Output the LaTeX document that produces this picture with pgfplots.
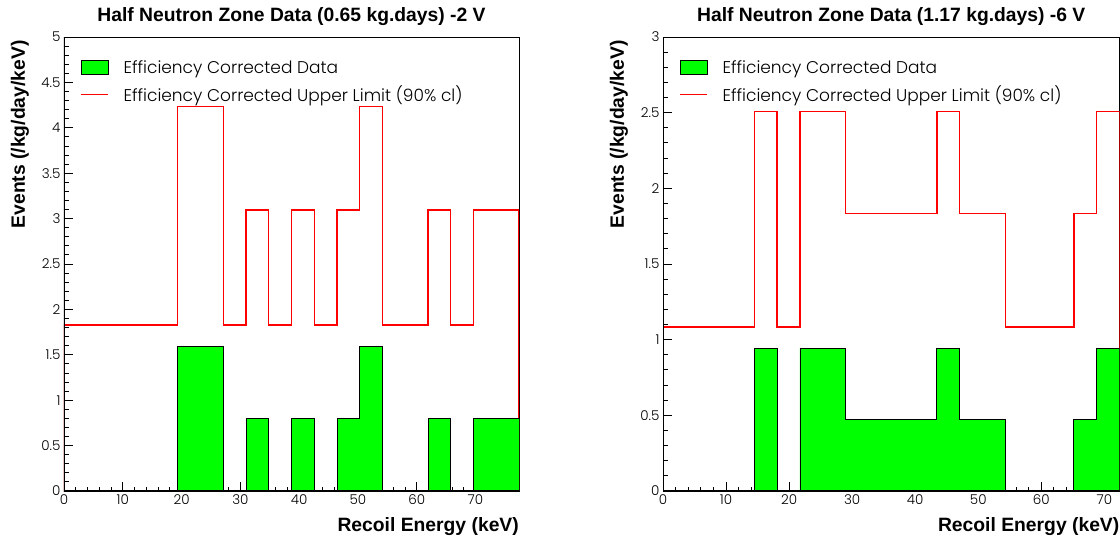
\documentclass[border=0pt]{standalone}
\usepackage{fontspec}
\setmainfont{Liberation Sans}
\newfontfamily\thinfont{Poppins Light}
\usepackage{pgfplots}
\pgfplotsset{compat=1.18}
\definecolor{hgreen}{RGB}{0,255,0}
\definecolor{hred}{RGB}{255,0,0}
\pgfplotsset{
  rootstyle/.style={
    scale only axis,
    height=454pt,
    xmin=0,
    ymin=0,
    axis line style={line width=0.8pt},
    tick pos=left,
    tick align=inside,
    major tick length=9pt,
    minor tick length=4.5pt,
    every tick/.style={black, line width=0.9pt},
    xtick={0,10,...,70},
    minor x tick num=4,
    minor y tick num=4,
    /pgf/number format/assume math mode=true,
    ticklabel style={font=\thinfont\fontsize{13.5}{15}\selectfont},
    yticklabel style={/pgf/number format/fixed},
    every axis title/.style={at={(axis description cs:0.5,1)}, anchor=base, yshift=16pt, font=\bfseries\fontsize{19.3}{22}\selectfont},
    every axis y label/.style={at={(axis description cs:-0.0967,1)}, rotate=90, anchor=east, font=\bfseries\fontsize{19.3}{22}\selectfont},
    every axis x label/.style={at={(axis description cs:1,0)}, anchor=base east, yshift=-40pt, inner sep=0pt, font=\bfseries\fontsize{19.3}{22}\selectfont},
    xlabel={Recoil Energy (keV)},
    ylabel={Events (/kg/day/keV)},
    legend style={at={(axis description cs:0,1)}, anchor=north west, xshift=13pt, yshift=-19pt,
      draw=none, fill=none, font=\thinfont\fontsize{17}{19}\selectfont, row sep=7pt,
      /tikz/every odd column/.append style={column sep=13pt}},
    legend cell align=left,
  },
  greenleg/.style={legend image code/.code={\draw[fill=hgreen, draw=black, line width=0.8pt] (0pt,-7pt) rectangle (27pt,7pt);}},
  redleg/.style={legend image code/.code={\draw[hred, line width=1.4pt] (0pt,0pt) -- (27pt,0pt);}},
}
\begin{document}
\begin{tikzpicture}[x=1pt,y=1pt]
\useasboundingbox (0,0) rectangle (1120,539);
% ---------------- left panel
\begin{axis}[rootstyle,
  at={(64pt,48pt)}, anchor=south west,
  width=455pt,
  xmax=77.4, ymax=5,
  ytick={0,0.5,...,5},
  title={Half Neutron Zone Data (0.65 kg.days) -2 V},
]
\addlegendimage{greenleg}
\addlegendentry{Efficiency Corrected Data}
\addlegendimage{redleg}
\addlegendentry{Efficiency Corrected Upper Limit (90\% cl)}
\addplot[const plot, hred, line width=1.4pt, forget plot] coordinates {
 (0,0) (0,1.828) (19.35,4.233) (27.09,1.828) (30.96,3.095) (34.83,1.828)
 (38.70,3.095) (42.57,1.828) (46.44,3.095) (50.31,4.233) (54.18,1.828)
 (61.92,3.095) (65.79,1.828) (69.66,3.095) (77.4,3.095) (77.4,0)};
\addplot[const plot, fill=hgreen, draw=black, line width=0.9pt, forget plot] coordinates {
 (0,0) (19.35,1.590) (27.09,0) (30.96,0.795) (34.83,0) (38.70,0.795)
 (42.57,0) (46.44,0.795) (50.31,1.590) (54.18,0) (61.92,0.795) (65.79,0)
 (69.66,0.795) (77.4,0.795) (77.4,0)} \closedcycle;
\draw[line width=2pt, line cap=rect] (rel axis cs:0,1) -- (rel axis cs:0,0) -- (rel axis cs:1,0);
\end{axis}
% ---------------- right panel
\begin{axis}[rootstyle,
  at={(663pt,48pt)}, anchor=south west,
  width=456.5pt,
  xmax=72.4, ymax=3,
  ytick={0,0.5,...,3},
  title={Half Neutron Zone Data (1.17 kg.days) -6 V},
]
\addlegendimage{greenleg}
\addlegendentry{Efficiency Corrected Data}
\addlegendimage{redleg}
\addlegendentry{Efficiency Corrected Upper Limit (90\% cl)}
\addplot[const plot, hred, line width=1.4pt, forget plot] coordinates {
 (0,0) (0,1.083) (14.48,2.506) (18.10,1.083) (21.72,2.506) (28.96,1.832)
 (43.44,2.506) (47.06,1.832) (54.30,1.083) (65.16,1.832) (68.78,2.506)
 (72.4,2.506) (72.4,0)};
\addplot[const plot, fill=hgreen, draw=black, line width=0.9pt, forget plot] coordinates {
 (0,0) (14.48,0.942) (18.10,0) (21.72,0.942) (28.96,0.471) (43.44,0.942)
 (47.06,0.471) (54.30,0) (65.16,0.471) (68.78,0.942) (72.4,0.942) (72.4,0)} \closedcycle;
\draw[line width=2pt, line cap=rect] (rel axis cs:0,1) -- (rel axis cs:0,0) -- (rel axis cs:1,0);
\end{axis}
\end{tikzpicture}
\end{document}
